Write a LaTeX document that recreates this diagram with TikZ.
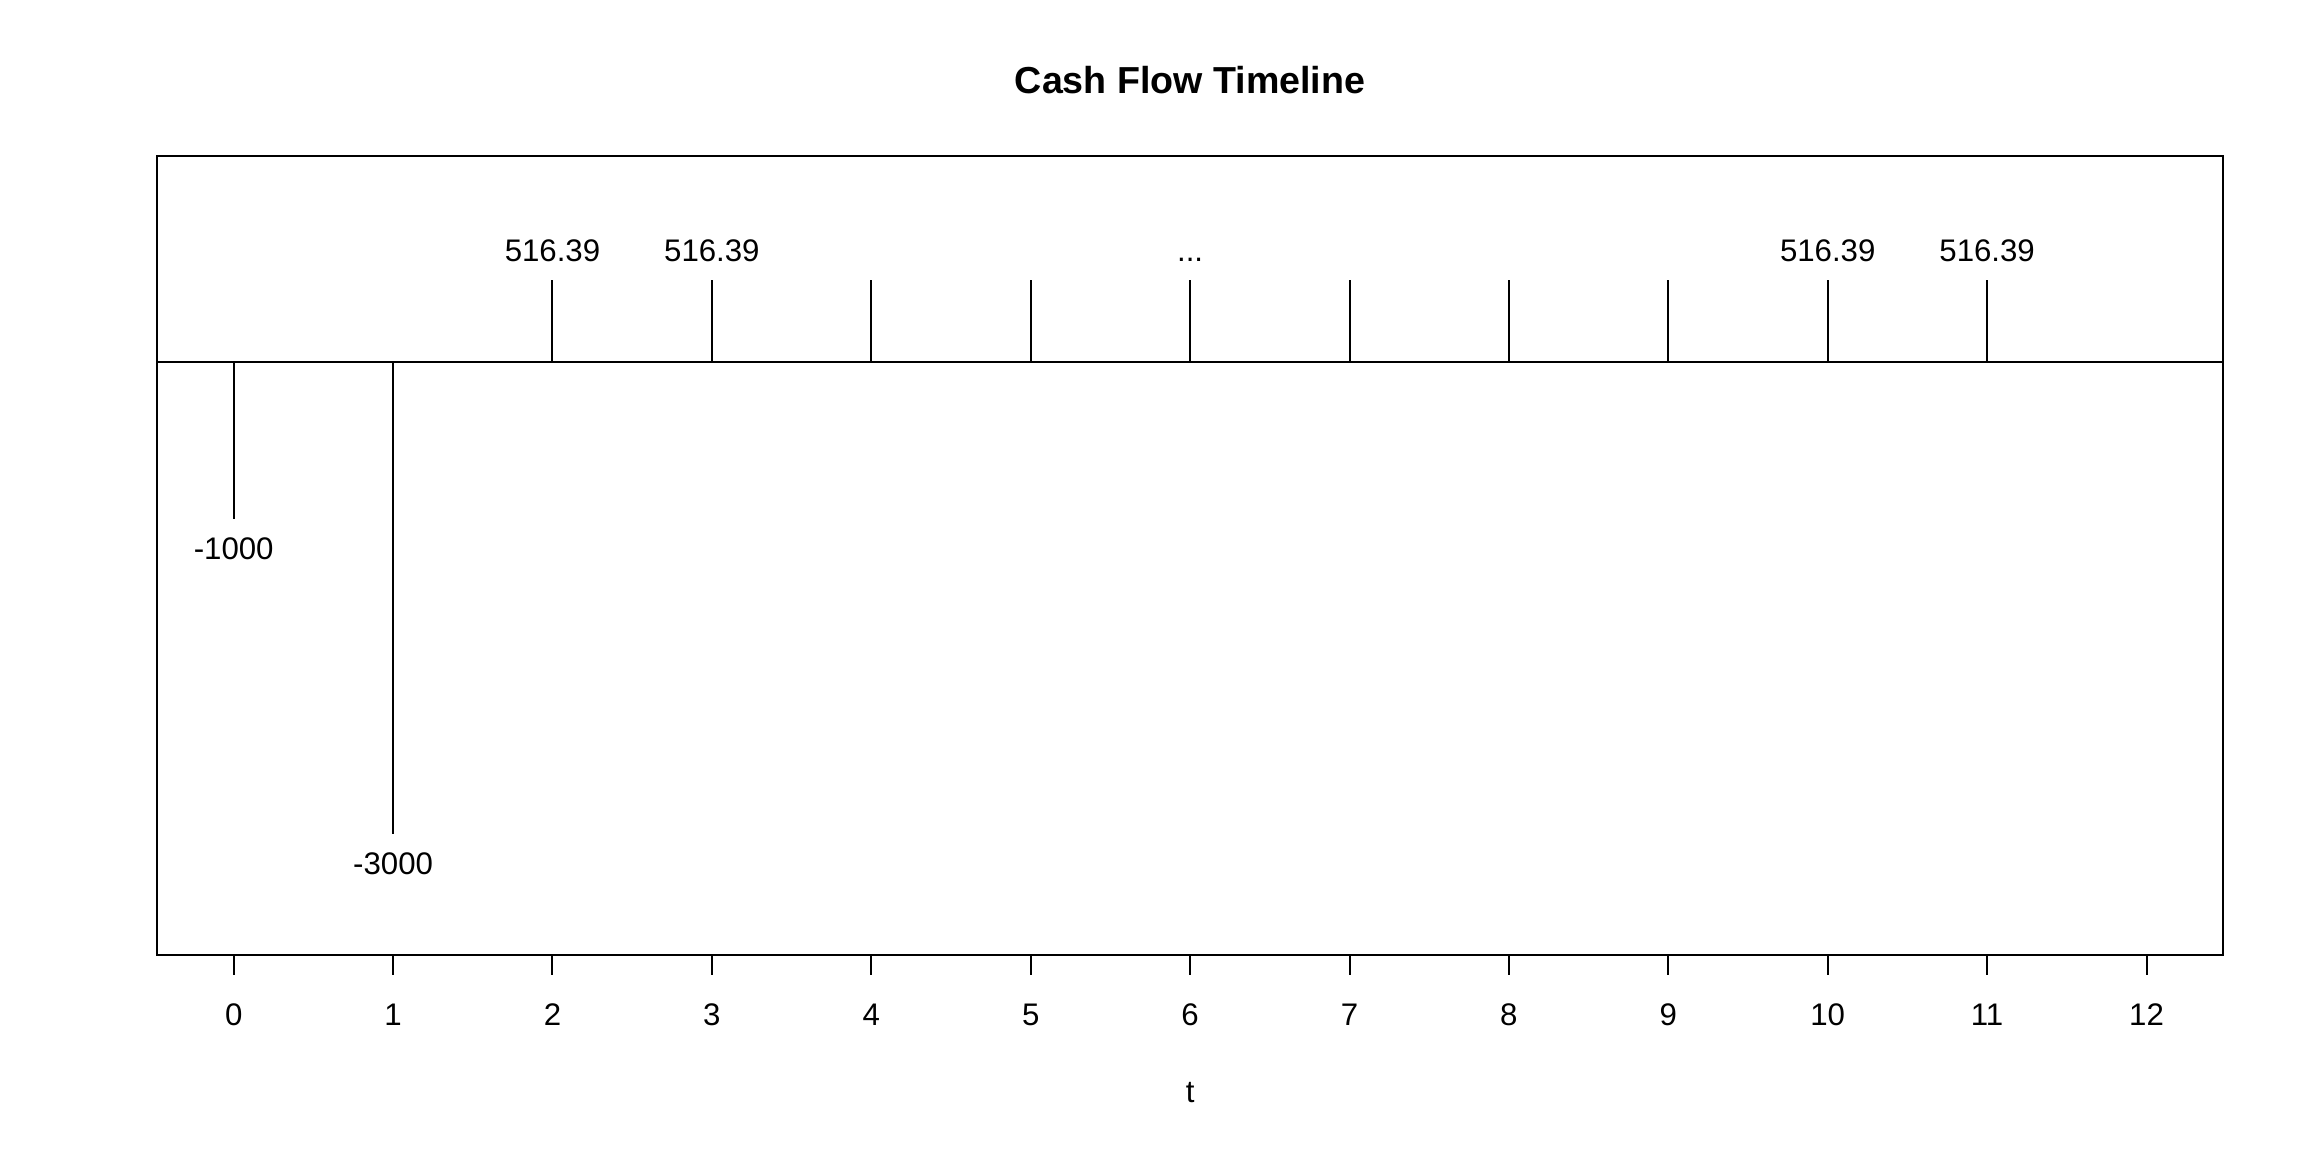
\documentclass[tikz,border=0pt]{standalone}
\usepackage{fontspec}
\setmainfont{Liberation Sans}

\begin{document}
\begin{tikzpicture}[x=39.85pt,y=0.039368pt,line width=0.5pt,
  lbl/.style={inner sep=0pt,anchor=base,font=\fontsize{7.8}{9}\selectfont}]
\useasboundingbox (-1.466,-5018) rectangle (12.988,2297);
\node[lbl,font=\fontsize{9.4}{11}\selectfont\bfseries] (title) at (6,1705) {Cash Flow Timeline};
\draw (-0.48,-3768) rectangle (12.48,1308);
\draw (-0.48,0) -- (12.48,0);
% outflows
\foreach \t/\v in {0/-1000,1/-3000} {
  \coordinate (a\t) at (\t,0);
  \coordinate (b\t) at (\t,\v);
  \draw (a\t) -- (b\t);
  \node[lbl] (c\t) at (\t,\v-257) {\v};
}
% inflows
\foreach \t in {2,...,11} {
  \coordinate (a\t) at (\t,0);
  \coordinate (b\t) at (\t,516.39);
  \draw (a\t) -- (b\t);
}
\foreach \t in {2,3,10,11} \node[lbl] (c\t) at (\t,635) {516.39};
\node[lbl] (c6) at (6,635) {...};
% time axis
\foreach \t in {0,...,12} {
  \draw (\t,-3768) -- (\t,-3895);
  \node[lbl] (x\t) at (\t,-4218) {\t};
}
\node[lbl] (tlab) at (6,-4701) {t};
\end{tikzpicture}
\end{document}
